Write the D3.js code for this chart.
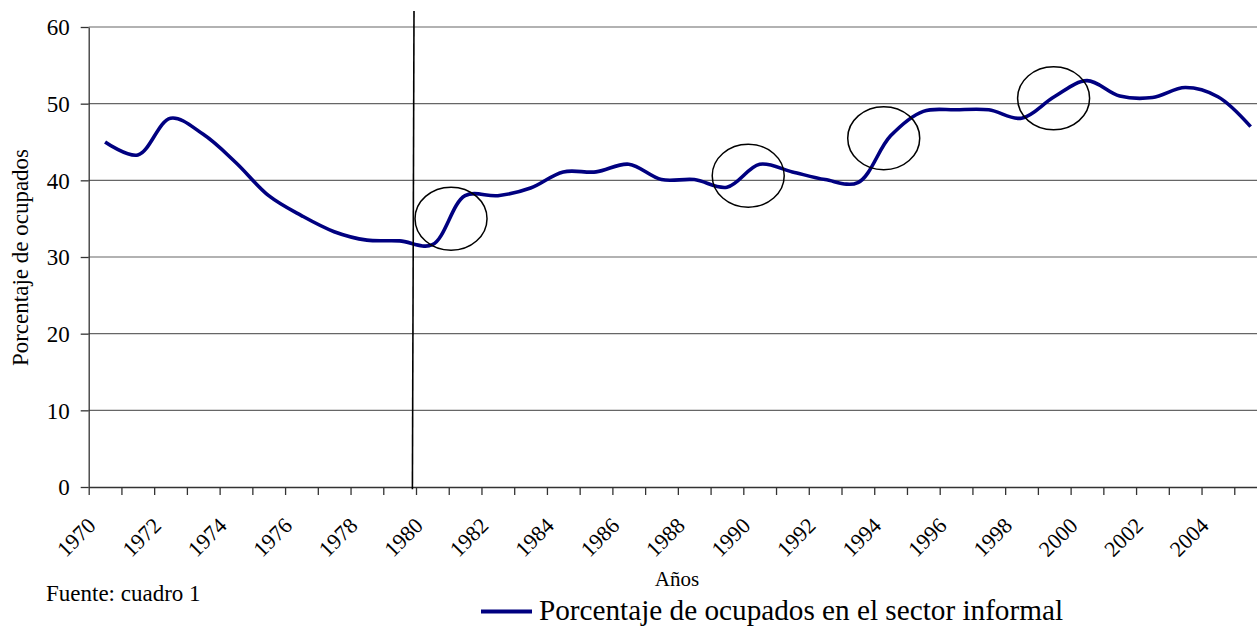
<!DOCTYPE html>
<html>
<head>
<meta charset="utf-8">
<script src="https://cdn.jsdelivr.net/npm/d3@7"></script>
<style>
  body { margin: 0; background: #fff; }
  svg { display: block; background: #fff; }
  svg text { font-family: "Liberation Serif", "Times New Roman", serif; fill: #000; }
</style>
</head>
<body>
<svg id="chart" width="1257" height="626"></svg>
<script>
// informal sector share of employed people, one value per year
var years = [1970, 1971, 1972, 1973, 1974, 1975, 1976, 1977, 1978, 1979,
             1980, 1981, 1982, 1983, 1984, 1985, 1986, 1987, 1988, 1989,
             1990, 1991, 1992, 1993, 1994, 1995, 1996, 1997, 1998, 1999,
             2000, 2001, 2002, 2003, 2004, 2005];
var informal = [45.0, 43.3, 48.1, 46.0, 42.3, 38.0, 35.4, 33.3, 32.2, 32.1,
                31.6, 38.0, 38.0, 39.0, 41.1, 41.1, 42.1, 40.1, 40.1, 39.1,
                42.1, 41.1, 40.1, 39.7, 45.8, 49.0, 49.2, 49.2, 48.1, 50.9,
                53.0, 51.0, 50.8, 52.1, 50.9, 47.0];
var yTicks = [0, 10, 20, 30, 40, 50, 60];
var xLabelYears = [1970, 1972, 1974, 1976, 1978, 1980, 1982, 1984, 1986,
                   1988, 1990, 1992, 1994, 1996, 1998, 2000, 2002, 2004];

// circled stretches of the series (year position, value at centre)
var circleYears = [1980.57, 1989.65, 1993.79, 1998.98];
var circleValues = [35.0, 40.6, 45.5, 50.7];
var breakYear = 1980;

var svg = d3.select('#chart');
var navy = '#000080';

var x = d3.scaleLinear().domain([1970, 2006]).range([88.7, 1267]);
var y = d3.scaleLinear().domain([0, 60]).range([487, 27]);
var mid = function (yr) { return x(yr + 0.5); };

// grid
svg.append('g').selectAll('line')
    .data(yTicks.filter(function (t) { return t > 0; }))
    .enter().append('line')
    .attr('x1', x(1970)).attr('x2', x(2006))
    .attr('y1', function (d) { return y(d); })
    .attr('y2', function (d) { return y(d); })
    .attr('stroke', '#666')
    .attr('stroke-width', 1.2);

// y axis
var yAxis = svg.append('g')
    .attr('transform', 'translate(' + x(1970) + ',0)')
    .call(d3.axisLeft(y).tickValues(yTicks).tickSize(8).tickSizeOuter(0).tickPadding(11));
yAxis.selectAll('text').style('font-size', '23px').attr('dy', '0.34em');

// x axis, a tick per year, labels every other year
svg.append('g')
    .attr('transform', 'translate(0,' + y(0) + ')')
    .call(d3.axisBottom(x).tickValues(years.concat([2006])).tickSize(8).tickSizeOuter(0).tickFormat(''));

svg.selectAll('.domain, .tick line').attr('stroke', '#333').attr('stroke-width', 1.3);

svg.append('g').selectAll('text')
    .data(xLabelYears)
    .enter().append('text')
    .attr('transform', function (d) {
      return 'translate(' + (mid(d) - 8) + ',527) rotate(-45)';
    })
    .attr('text-anchor', 'end')
    .style('font-size', '22px')
    .text(function (d) { return d; });

// series, smoothed like the spreadsheet line
var line = d3.line()
    .x(function (d, i) { return mid(years[i]); })
    .y(function (d) { return y(d); })
    .curve(d3.curveCatmullRom.alpha(0.5));

svg.append('path')
    .datum(informal)
    .attr('d', line)
    .attr('fill', 'none')
    .attr('stroke', navy)
    .attr('stroke-width', 3.6)
    .attr('stroke-linejoin', 'round');

// hand drawn marks
svg.append('line')
    .attr('x1', x(breakYear) - 2).attr('y1', y(62.1))
    .attr('x2', x(breakYear) - 3.6).attr('y2', y(-0.3))
    .attr('stroke', '#000')
    .attr('stroke-width', 1.6);

svg.append('g').selectAll('ellipse')
    .data(circleYears)
    .enter().append('ellipse')
    .attr('cx', function (d) { return mid(d); })
    .attr('cy', function (d, i) { return y(circleValues[i]); })
    .attr('rx', 36)
    .attr('ry', 31.5)
    .attr('fill', 'none')
    .attr('stroke', '#000')
    .attr('stroke-width', 1.5);

// titles
svg.append('text')
    .attr('transform', 'translate(28,257.5) rotate(-90)')
    .attr('text-anchor', 'middle')
    .style('font-size', '23px')
    .text('Porcentaje de ocupados');

svg.append('text')
    .attr('x', 677).attr('y', 586)
    .attr('text-anchor', 'middle')
    .style('font-size', '21px')
    .text('Años');

svg.append('text')
    .attr('x', 46).attr('y', 601)
    .style('font-size', '23px')
    .text('Fuente: cuadro 1');

// legend
svg.append('line')
    .attr('x1', 481).attr('x2', 532)
    .attr('y1', 611.5).attr('y2', 611.5)
    .attr('stroke', navy)
    .attr('stroke-width', 4);

svg.append('text')
    .attr('x', 539).attr('y', 619.5)
    .attr('textLength', 524)
    .attr('lengthAdjust', 'spacingAndGlyphs')
    .style('font-size', '28.5px')
    .text('Porcentaje de ocupados en el sector informal');
</script>
</body>
</html>
